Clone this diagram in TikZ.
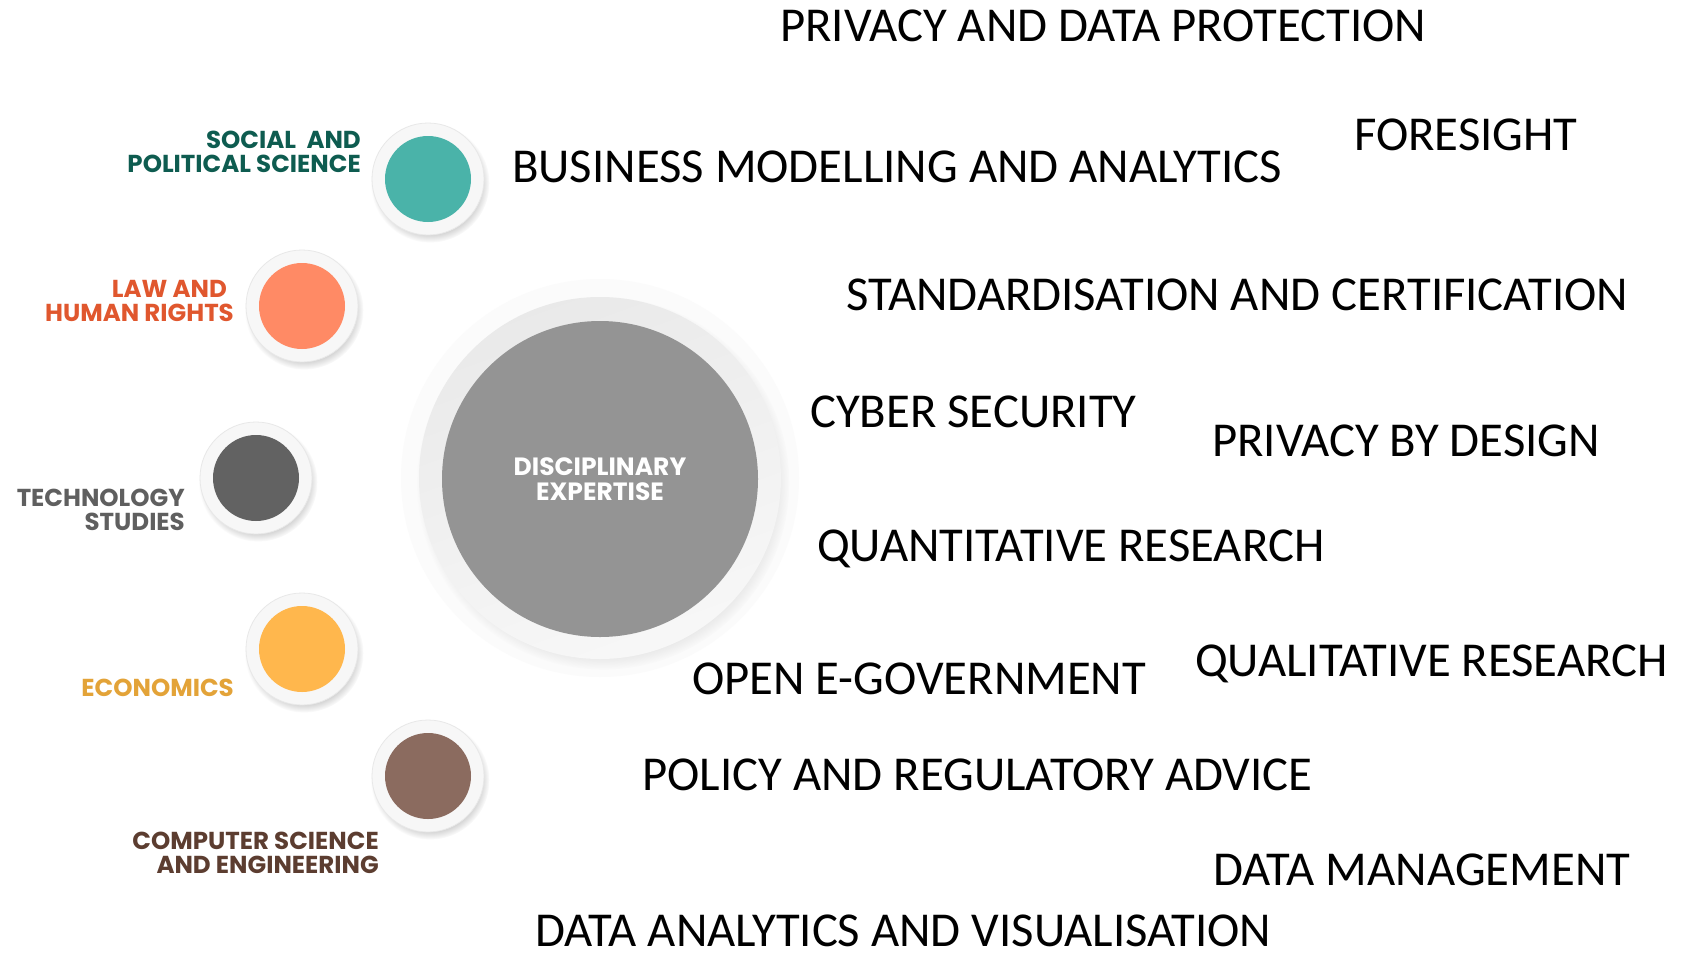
\documentclass[tikz,border=0pt]{standalone}
\usepackage{fontspec}
\setmainfont{Carlito}
\newfontfamily\fieldfont{Poppins}
\usepackage{tikz}
\usetikzlibrary{shadows,backgrounds}

\definecolor{socialTeal}{HTML}{4AB3A9}
\definecolor{socialDark}{HTML}{0E5C50}
\definecolor{lawOrange}{HTML}{FF8A65}
\definecolor{lawRed}{HTML}{E0572E}
\definecolor{techDisk}{HTML}{626262}
\definecolor{techText}{HTML}{5F5F5F}
\definecolor{ecoYellow}{HTML}{FFB74D}
\definecolor{ecoOchre}{HTML}{E3A338}
\definecolor{cseBrown}{HTML}{8B6B5F}
\definecolor{cseDark}{HTML}{5C3D30}
\definecolor{coreGray}{HTML}{949494}

\tikzset{
  ring/.style={circle, inner sep=0pt, minimum size=112pt, fill=gray!6, draw=gray!18, line width=0.8pt,
    circular drop shadow={shadow scale=1.06, shadow xshift=2pt, shadow yshift=-4pt, opacity=0.35}},
  disk/.style={circle, inner sep=0pt, minimum size=86pt},
  spoke/.style={line width=8pt, draw=gray!7},
  field/.style={align=right, anchor=east, inner sep=0pt, font=\fieldfont\bfseries\fontsize{24.5}{24.5}\selectfont},
  topic/.style={anchor=base west, inner sep=0pt, font=\fontsize{48.7}{50}\selectfont},
}

\begin{document}
\begin{tikzpicture}[x=1pt,y=-1pt]
    \useasboundingbox[fill=white] (0,0) rectangle (1688,956);

    % core circle
    \node[circle, inner sep=0pt, minimum size=398pt, fill=gray!3] (halo) at (600,478) {};
    \node[circle, inner sep=0pt, minimum size=362pt, top color=gray!17, bottom color=gray!6, shading angle=20,
      circular drop shadow={shadow scale=1.03, shadow xshift=3pt, shadow yshift=-5pt, opacity=0.3}] (coreR) at (600,478) {};
    \node[circle, inner sep=0pt, minimum size=316pt, fill=coreGray, text=white, align=center,
      font=\fieldfont\bfseries\fontsize{25}{25}\selectfont] (core) at (600,479) {DISCIPLINARY\\EXPERTISE};

    % disciplines
    \foreach \name/\x/\y/\col in {soc/428/179/socialTeal, law/302/306/lawOrange, tech/256/478/techDisk,
                                  eco/302/649/ecoYellow, cse/428/776/cseBrown}
    {
      \node[ring] (\name R) at (\x,\y) {};
      \node[disk, fill=\col] (\name) at (\x,\y) {};
    }

    \begin{scope}[on background layer]
      \foreach \name in {soc,law,tech,eco,cse}
      \draw[spoke] (halo.center) -- (\name R.center);
    \end{scope}

    \node[field, text=socialDark] (socT) at (361,152) {SOCIAL\ \ AND\\POLITICAL SCIENCE};
    \node[field, text=lawRed] (lawT) at (234,301) {LAW AND\hphantom{.}\\HUMAN RIGHTS};
    \node[field, text=techText] (techT) at (185,510) {TECHNOLOGY\\STUDIES};
    \node[field, text=ecoOchre] (ecoT) at (234,688) {ECONOMICS};
    \node[field, text=cseDark] (cseT) at (379,853) {COMPUTER SCIENCE\\AND ENGINEERING};

    % expertise areas
    \node[topic] (pdp) at (780,41) {PRIVACY AND DATA PROTECTION};
    \node[topic] (fore) at (1354,150) {FORESIGHT};
    \node[topic] (bma) at (512,182) {BUSINESS MODELLING AND ANALYTICS};
    \node[topic] (stand) at (846,310) {STANDARDISATION AND CERTIFICATION};
    \node[topic] (cyber) at (810,427) {CYBER SECURITY};
    \node[topic] (pbd) at (1212,456) {PRIVACY BY DESIGN};
    \node[topic] (quant) at (817,561) {QUANTITATIVE RESEARCH};
    \node[topic] (qual) at (1195,676) {QUALITATIVE RESEARCH};
    \node[topic] (egov) at (692,694) {OPEN E-GOVERNMENT};
    \node[topic] (policy) at (642,790) {POLICY AND REGULATORY ADVICE};
    \node[topic] (dm) at (1213,885) {DATA MANAGEMENT};
    \node[topic] (dav) at (535,946) {DATA ANALYTICS AND VISUALISATION};
\end{tikzpicture}
\end{document}
